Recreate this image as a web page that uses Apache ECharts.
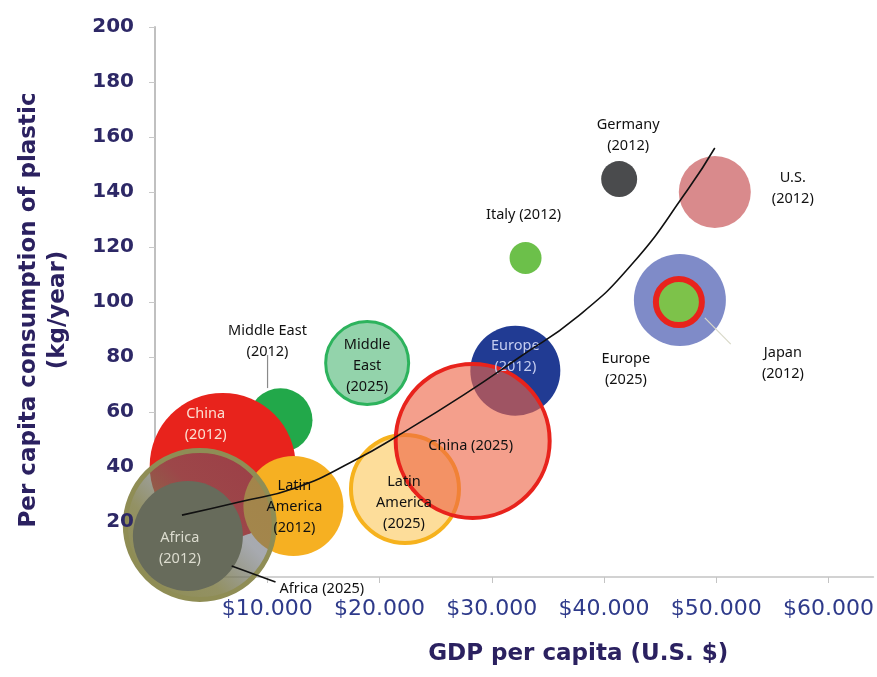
<!DOCTYPE html>
<html>
<head>
<meta charset="utf-8">
<script src="https://cdn.jsdelivr.net/npm/echarts@6/dist/echarts.min.js"></script>
<style>
html,body{margin:0;padding:0;background:#fff;}
#chart{width:877px;height:677px;}
</style>
</head>
<body>
<div id="chart"></div>
<script>
// ---- data ----
const names = ["Middle East (2012)", "China (2012)", "Latin America (2012)", "Africa (2025)", "Africa (2012)",
  "Middle East (2025)", "Latin America (2025)", "Europe (2012)", "China (2025)", "Italy (2012)",
  "Germany (2012)", "U.S. (2012)", "Europe (2025)", "Japan (2012)"];
const gdpPerCapita = [11180, 6030, 12330, 3990, 2930, 18900, 22270, 32100, 28300, 33010, 41350, 49870, 46760, 46670];
const plasticPerCapita = [57, 40.4, 25.8, 18.9, 14.9, 77.8, 32, 75, 49.5, 116, 144.7, 140, 100.7, 100];
const bubbleSize = [64, 146, 100, 154, 110, 86, 112, 90, 158, 32, 36, 72, 92, 52];
const trendGdp = [2400, 7500, 12500, 17500, 22500, 27500, 32500, 37500, 42500, 47500, 49870];
const trendPlastic = [22.5, 27.3, 32.4, 41.8, 53.5, 66.2, 80, 94.2, 113.8, 141.1, 156];
const yTicks = [20, 40, 60, 80, 100, 120, 140, 160, 180, 200];
const leaderLines = [
  [[10027, 80.7], [10027, 68.7]],
  [[6832, 4.0], [10737, -1.8]],
  [[48980, 94.2], [51290, 84.7]]
];

// ---- styles ----
const styleMap = {
  "Middle East (2012)": {color: "#22a84a", text: "Middle East\n(2012)", off: [-13, -79], tc: "#111"},
  "China (2012)": {color: "#e8231c", text: "China\n(2012)", off: [-17, -42], tc: "#fbe0d2"},
  "Latin America (2012)": {color: "#f6b022", text: "Latin\nAmerica\n(2012)", off: [1, 1], tc: "#111"},
  "Africa (2025)": {color: {type: "linear", x: 0, y: 1, x2: 1, y2: 0, colorStops: [
      {offset: 0, color: "rgba(135,133,70,0.95)"}, {offset: 0.35, color: "rgba(128,126,72,0.85)"},
      {offset: 0.6, color: "rgba(95,100,110,0.55)"}, {offset: 1, color: "rgba(81,87,113,0.5)"}]},
    borderColor: "#8f8d55", borderWidth: 5, text: "Africa (2025)", off: [122, 64], tc: "#111"},
  "Africa (2012)": {color: "#676b5b", text: "Africa\n(2012)", off: [-8, 12], tc: "#dcdccf"},
  "Middle East (2025)": {color: "rgba(120,200,150,0.8)", borderColor: "#2db35d", borderWidth: 3,
    text: "Middle\nEast\n(2025)", off: [0, 3], tc: "#111"},
  "Latin America (2025)": {color: "rgba(252,210,120,0.75)", borderColor: "#f6b21d", borderWidth: 4,
    text: "Latin\nAmerica\n(2025)", off: [-1, 14], tc: "#111"},
  "Europe (2012)": {color: "#213b93", text: "Europe\n(2012)", off: [0, -14], tc: "#c5cdf0"},
  "China (2025)": {color: "rgba(238,100,70,0.62)", borderColor: "#e8231c", borderWidth: 4,
    text: "China (2025)", off: [-2, 5], tc: "#111"},
  "Italy (2012)": {color: "#6cc04a", text: "Italy (2012)", off: [-2, -43], tc: "#111"},
  "Germany (2012)": {color: "#4a4b4d", text: "Germany\n(2012)", off: [9, -44], tc: "#111"},
  "U.S. (2012)": {color: "#d98a8c", text: "U.S.\n(2012)", off: [78, -4], tc: "#111"},
  "Europe (2025)": {color: "#7f8bc8", text: "Europe\n(2025)", off: [-54, 69], tc: "#111"},
  "Japan (2012)": {color: "#7dc24a", borderColor: "#e8231c", borderWidth: 6, text: "Japan\n(2012)", off: [104, 61], tc: "#111"}
};
const leaderColors = ["#8a8a8a", "#111111", "#d8d8c8"];

const bubbleData = names.map((n, i) => {
  const s = styleMap[n];
  const bw = s.borderWidth || 0;
  return {
    name: n,
    value: [gdpPerCapita[i], plasticPerCapita[i], bubbleSize[i]],
    symbolSize: bubbleSize[i] - bw,
    itemStyle: {color: s.color, borderColor: s.borderColor || s.color, borderWidth: bw, opacity: 1},
    label: {show: true, position: "inside", formatter: s.text, offset: s.off, color: s.tc,
      fontFamily: "Noto Sans", fontSize: 14.5, lineHeight: 21, align: "center"}
  };
});

const series = [{
  type: "scatter",
  data: bubbleData,
  z: 2,
  silent: true,
  emphasis: {disabled: true}
}, {
  type: "line",
  data: trendGdp.map((x, i) => [x, trendPlastic[i]]),
  smooth: true,
  symbol: "none",
  z: 5,
  lineStyle: {color: "#111", width: 1.6}
}];
leaderLines.forEach((l, i) => series.push({
  type: "line", data: l, symbol: "none", clip: false, z: 4,
  lineStyle: {color: leaderColors[i], width: i === 1 ? 1.6 : 1.2}
}));

const yBase = {type: "value", min: 0, max: 200, interval: 20, position: "left", splitLine: {show: false}};

const chart = echarts.init(document.getElementById("chart"), null, {renderer: "canvas"});
chart.setOption({
  animation: false,
  backgroundColor: "#ffffff",
  grid: {left: 155, right: 1, top: 27, bottom: 100, containLabel: false},
  xAxis: {
    type: "value", min: 0, max: 64000, interval: 10000,
    name: "GDP per capita (U.S. $)", nameLocation: "middle", nameGap: 66,
    nameTextStyle: {fontFamily: "DejaVu Sans", fontWeight: "bold", fontSize: 23, color: "#2b2160",
      padding: [0, 0, 0, 128], verticalAlign: "top"},
    axisLine: {lineStyle: {color: "#c4c4c4", width: 1.5}},
    axisTick: {show: true, length: 6, lineStyle: {color: "#c4c4c4"}},
    splitLine: {show: false},
    axisLabel: {showMinLabel: false, showMaxLabel: false, margin: 21, fontFamily: "DejaVu Sans", fontSize: 22,
      color: "#2e3a8a", formatter: v => "$" + (v / 1000) + ".000"}
  },
  yAxis: [Object.assign({}, yBase, {
    z: 0,
    name: "Per capita consumption of plastic\n(kg/year)", nameLocation: "middle", nameGap: 82,
    nameTextStyle: {fontFamily: "DejaVu Sans", fontWeight: "bold", fontSize: 23, color: "#2b2160",
      lineHeight: 29, padding: [0, 16, 0, 0]},
    axisLine: {show: true, lineStyle: {color: "#c0c0c0", width: 2}},
    axisTick: {show: true, length: 6, lineStyle: {color: "#c8c8c8"}},
    axisLabel: {show: false}
  }), Object.assign({}, yBase, {
    z: 10,
    axisLine: {show: false},
    axisTick: {show: false},
    axisLabel: {showMinLabel: false, margin: 21, fontFamily: "DejaVu Sans", fontWeight: "bold", fontSize: 20,
      color: "#2d2866", formatter: v => (yTicks.indexOf(v) >= 0 ? String(v) : "")}
  })],
  series: series
});
</script>
</body>
</html>
